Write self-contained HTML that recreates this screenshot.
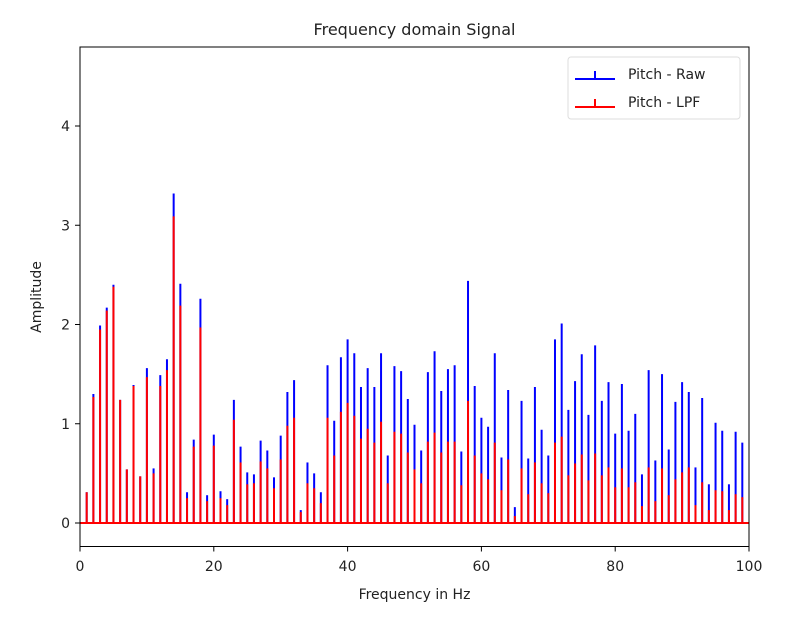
<!DOCTYPE html>
<html><head><meta charset="utf-8"><style>
body{margin:0;background:#fff;}
svg text{font-family:"DejaVu Sans","Liberation Sans",sans-serif;fill:#222;}
</style></head><body>
<svg id="chart" width="796" height="628" xmlns="http://www.w3.org/2000/svg">
<rect width="796" height="628" fill="#fff"/>
<text x="414.5" y="35" font-size="16" text-anchor="middle">Frequency domain Signal</text>
<g id="ticks"></g>
<g id="marks"></g>
<rect x="80" y="47" width="669" height="499.5" fill="none" stroke="#000" stroke-width="1"/>
<text x="414.5" y="599" font-size="14" text-anchor="middle">Frequency in Hz</text>
<text transform="translate(41,297) rotate(-90)" font-size="14" text-anchor="middle">Amplitude</text>
<g>
<rect x="568" y="57" width="172" height="62" rx="3" fill="#fff" fill-opacity="0.8" stroke="#ddd"/>
<g>
<line x1="575" y1="79" x2="615" y2="79" stroke="blue" stroke-width="2"/>
<line x1="595" y1="71" x2="595" y2="79" stroke="blue" stroke-width="2"/>
<text x="628" y="79" font-size="14">Pitch - Raw</text></g>
<g>
<line x1="575" y1="107" x2="615" y2="107" stroke="red" stroke-width="2"/>
<line x1="595" y1="99" x2="595" y2="107" stroke="red" stroke-width="2"/>
<text x="628" y="107" font-size="14">Pitch - LPF</text></g>
</g>
</svg>
<script>
const freqs = [];
for (let i = 1; i <= 99; i++) freqs.push(i);
const rawValues = [0.31,1.30,1.99,2.17,2.40,1.24,0.54,1.39,0.47,1.56,0.55,1.49,1.65,3.32,2.41,0.31,0.84,2.26,0.28,0.89,0.32,0.24,1.24,0.77,0.51,0.49,0.83,0.73,0.46,0.88,1.32,1.44,0.13,0.61,0.50,0.31,1.59,1.03,1.67,1.85,1.71,1.37,1.56,1.37,1.71,0.68,1.58,1.53,1.25,0.99,0.73,1.52,1.73,1.33,1.55,1.59,0.72,2.44,1.38,1.06,0.97,1.71,0.66,1.34,0.16,1.23,0.65,1.37,0.94,0.68,1.85,2.01,1.14,1.43,1.70,1.09,1.79,1.23,1.42,0.90,1.40,0.93,1.10,0.49,1.54,0.63,1.50,0.74,1.22,1.42,1.32,0.56,1.26,0.39,1.01,0.93,0.39,0.92,0.81];
const lpfValues = [0.31,1.27,1.95,2.14,2.38,1.24,0.54,1.38,0.47,1.47,0.50,1.38,1.54,3.09,2.19,0.25,0.77,1.97,0.22,0.78,0.25,0.18,1.04,0.61,0.39,0.40,0.62,0.55,0.35,0.64,0.98,1.06,0.11,0.40,0.35,0.20,1.06,0.68,1.12,1.21,1.08,0.85,0.95,0.81,1.02,0.40,0.92,0.90,0.71,0.54,0.40,0.82,0.91,0.71,0.82,0.82,0.38,1.23,0.68,0.50,0.44,0.81,0.33,0.64,0.07,0.55,0.29,0.61,0.40,0.30,0.81,0.87,0.48,0.60,0.69,0.43,0.70,0.48,0.56,0.36,0.55,0.36,0.41,0.17,0.56,0.22,0.55,0.28,0.44,0.51,0.56,0.18,0.41,0.13,0.33,0.32,0.13,0.29,0.26];
const xTicks = [0,20,40,60,80,100];
const yTicks = [0,1,2,3,4];
const xs = v => 80 + v * 6.69;
const ys = v => 523 - v * 99.25;
const NS = "http://www.w3.org/2000/svg";
const tg = document.getElementById('ticks'), mg = document.getElementById('marks');
function mk(tag, attrs, parent){const e=document.createElementNS(NS,tag);for(const k in attrs)e.setAttribute(k,attrs[k]);parent.appendChild(e);return e;}
xTicks.forEach(t=>{
  const l=mk('line',{x1:xs(t),x2:xs(t),y1:546.5,y2:551.5,stroke:'#000'},tg);
  
  
  const tx=mk('text',{x:xs(t),y:571,'font-size':14,'text-anchor':'middle'},tg);
  
  
  tx.textContent=t;
});
yTicks.forEach(t=>{
  const l=mk('line',{x1:75,x2:80,y1:ys(t),y2:ys(t),stroke:'#000'},tg);
  
  
  const tx=mk('text',{x:70,y:ys(t)+5,'font-size':14,'text-anchor':'end'},tg);
  
  
  tx.textContent=t;
});
freqs.forEach((f,i)=>{
  const b=mk('line',{x1:xs(f),x2:xs(f),y1:ys(0),y2:ys(rawValues[i]),stroke:'blue','stroke-width':2},mg);
  
  
});
const bl1=mk('line',{x1:xs(0),x2:xs(100),y1:ys(0),y2:ys(0),stroke:'blue','stroke-width':2},mg);


freqs.forEach((f,i)=>{
  const r=mk('line',{x1:xs(f),x2:xs(f),y1:ys(0),y2:ys(lpfValues[i]),stroke:'red','stroke-width':2},mg);
  
  
});
const bl2=mk('line',{x1:xs(0),x2:xs(100),y1:ys(0),y2:ys(0),stroke:'red','stroke-width':2},mg);


</script>
</body></html>
